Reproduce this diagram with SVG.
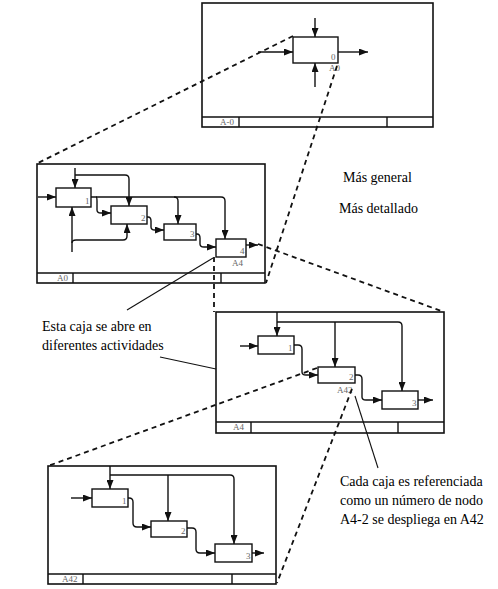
<svg xmlns="http://www.w3.org/2000/svg" width="498" height="589" viewBox="0 0 498 589">
<style>
.frame{fill:#fff;stroke:#111;stroke-width:1.6}
.sl{stroke:#111;stroke-width:1.4;fill:none}
.box{fill:#fff;stroke:#111;stroke-width:1.4}
.c{stroke:#111;stroke-width:1.4;fill:none;marker-end:url(#ah)}
.d{stroke:#111;stroke-width:1.8;fill:none;stroke-dasharray:5 4}
.p{stroke:#111;stroke-width:1.1;fill:none}
.lb{font-family:"Liberation Serif",serif;font-size:9px;fill:#666}
.t{font-family:"Liberation Serif",serif;font-size:14px;fill:#000}
</style>
<defs>
<marker id="ah" viewBox="0 0 9 7" refX="9" refY="3.5" markerWidth="9" markerHeight="7" markerUnits="userSpaceOnUse" orient="auto">
<path d="M0,0 L9,3.5 L0,7 z" fill="#111"/>
</marker>
</defs>
<rect width="498" height="589" fill="#fff"/>

<g id="frame-A-0">
<rect class="frame" x="202" y="3" width="231" height="124"/>
<path class="sl" d="M202 117 H433 M239 117 V127 M387 117 V127"/>
<text class="lb" x="220" y="125">A-0</text>
<g id="A-0-box0">
<rect class="box" x="293" y="37" width="45" height="26"/>
<text class="lb" x="331" y="60">0</text>
<text class="lb" x="329" y="71">A0</text>
</g>
</g>

<g id="frame-A0">
<rect class="frame" x="37" y="164" width="228" height="119"/>
<path class="sl" d="M37 273 H265 M73 273 V283 M221 273 V283"/>
<text class="lb" x="57" y="281">A0</text>
<g id="A0-box1"><rect class="box" x="56" y="188" width="35" height="19"/><text class="lb" x="85" y="204">1</text></g>
<g id="A0-box2"><rect class="box" x="111" y="206" width="36" height="18"/><text class="lb" x="141" y="221">2</text></g>
<g id="A0-box3"><rect class="box" x="164" y="224" width="32" height="16"/><text class="lb" x="190" y="237">3</text></g>
<g id="A0-box4"><rect class="box" x="216" y="239" width="30" height="18"/><text class="lb" x="240" y="254">4</text><text class="lb" x="232" y="266">A4</text></g>
</g>

<g id="frame-A4">
<rect class="frame" x="216" y="312" width="228" height="121"/>
<path class="sl" d="M216 422 H444 M251 422 V433 M398 422 V433"/>
<text class="lb" x="233" y="430">A4</text>
<g id="A4-box1"><rect class="box" x="258" y="336" width="36" height="18"/><text class="lb" x="288" y="351">1</text></g>
<g id="A4-box2"><rect class="box" x="318" y="367" width="37" height="16"/><text class="lb" x="349" y="380">2</text><text class="lb" x="337" y="393">A42</text></g>
<g id="A4-box3"><rect class="box" x="382" y="391" width="36" height="18"/><text class="lb" x="412" y="406">3</text></g>
</g>

<g id="frame-A42">
<rect class="frame" x="48" y="466" width="228" height="118"/>
<path class="sl" d="M48 574 H276 M83 574 V584 M232 574 V584"/>
<text class="lb" x="62" y="582">A42</text>
<g id="A42-box1"><rect class="box" x="92" y="489" width="36" height="18"/><text class="lb" x="122" y="504">1</text></g>
<g id="A42-box2"><rect class="box" x="151" y="521" width="36" height="16"/><text class="lb" x="181" y="534">2</text></g>
<g id="A42-box3"><rect class="box" x="215" y="544" width="37" height="18"/><text class="lb" x="246" y="559">3</text></g>
</g>

<g id="connectors">
<path class="c" d="M315 18 V37"/>
<path class="c" d="M258 52 H293"/>
<path class="c" d="M315 87 V63"/>
<path class="c" d="M338 52 H368"/>
<path class="c" d="M38 197 H56"/>
<path class="c" d="M75 168 V188"/>
<path class="c" d="M75 175 H125 Q129 175 129 179 V206"/>
<path class="c" d="M91 197 H221 Q225 197 225 201 V239"/>
<path class="c" d="M174 197 Q178 197 178 201 V224"/>
<path class="c" d="M96 197 Q97 197 97 201 V210 Q97 213 101 213 H111"/>
<path class="c" d="M147 217 H148 Q151 217 151 221 V227 Q151 230 155 230 H164"/>
<path class="c" d="M196 234 H197 Q200 234 200 238 V244 Q200 247 204 247 H216"/>
<path class="c" d="M246 245 H258"/>
<path class="c" d="M72 252 V207"/>
<path class="c" d="M72 243 Q72 240 76 240 H123 Q127 240 127 236 V224"/>
<path class="c" d="M240 346 H258"/>
<path class="c" d="M277 312 V336"/>
<path class="c" d="M277 322 H398 Q402 322 402 326 V391"/>
<path class="c" d="M335 322 V367"/>
<path class="c" d="M294 345 H298 Q302 345 302 349 V372 Q302 375 306 375 H318"/>
<path class="c" d="M355 375 H358 Q362 375 362 379 V397 Q362 400 366 400 H382"/>
<path class="c" d="M418 400 H433"/>
<path class="c" d="M71 498 H92"/>
<path class="c" d="M110 466 V489"/>
<path class="c" d="M110 475 H230 Q234 475 234 479 V544"/>
<path class="c" d="M168 475 V521"/>
<path class="c" d="M128 498 H129 Q133 498 133 502 V523 Q133 527 137 527 H151"/>
<path class="c" d="M187 528 H192 Q196 528 196 532 V549 Q196 553 200 553 H215"/>
<path class="c" d="M252 553 H264"/>
<path class="d" d="M293 36 L38 163"/>
<path class="d" d="M337 66 L266 283"/>
<path class="d" d="M258 244 L444 312"/>
<path class="d" d="M214 257 L214 312"/>
<path class="d" d="M317 368 L48 466"/>
<path class="d" d="M352 389 L277 583"/>
<path class="p" d="M213 258 L127 310"/>
<path class="p" d="M160 357 L216 369"/>
<path class="p" d="M355 396 L378 468"/>
</g>

<g id="note-general">
<text class="t" x="343" y="182">Más general</text>
<text class="t" x="339" y="213">Más detallado</text>
</g>
<g id="note-caja">
<text class="t" x="42" y="331">Esta caja se abre en</text>
<text class="t" x="42" y="350">diferentes actividades</text>
</g>
<g id="note-nodo">
<text class="t" x="340" y="486">Cada caja es referenciada</text>
<text class="t" x="340" y="505">como un número de nodo</text>
<text class="t" x="340" y="524">A4-2 se despliega en A42</text>
</g>
</svg>
